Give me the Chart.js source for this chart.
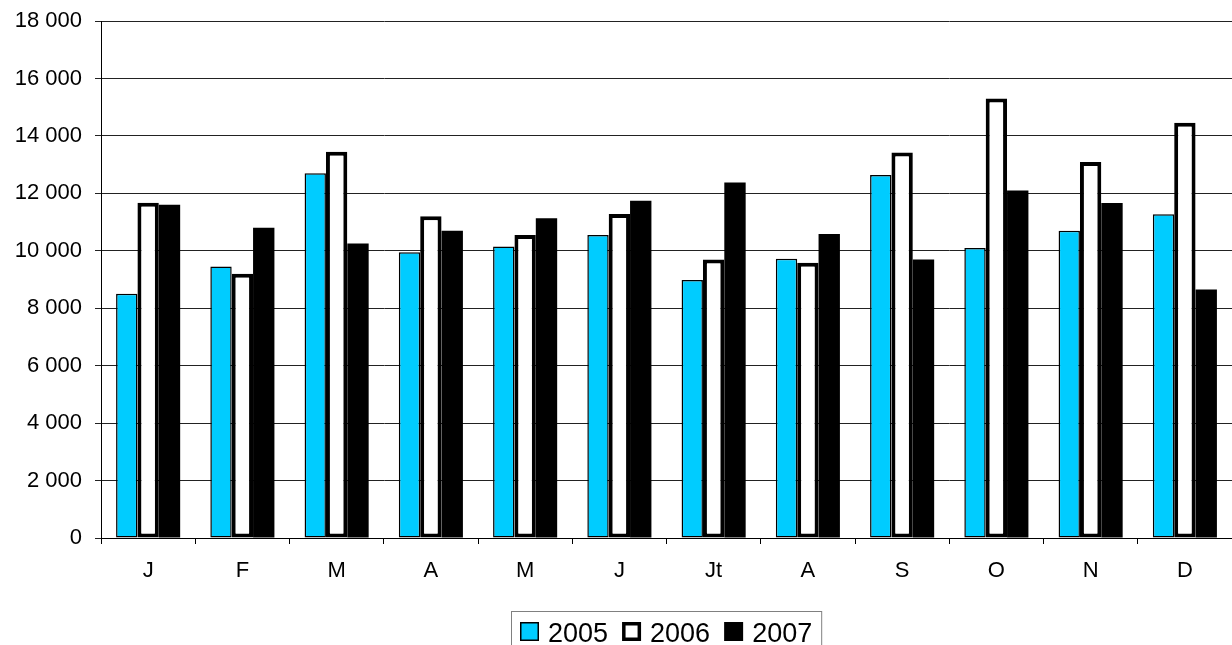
<!DOCTYPE html>
<html>
<head>
<meta charset="utf-8">
<script src="https://cdn.jsdelivr.net/npm/chart.js@4/dist/chart.umd.min.js"></script>
<style>
  html, body { margin: 0; padding: 0; background: #fff; }
  #wrap { width: 1232px; height: 645px; position: relative; }
</style>
</head>
<body>
<div id="wrap"><canvas id="c" width="1232" height="645"></canvas></div>
<script>
const categories = ['J', 'F', 'M', 'A', 'M', 'J', 'Jt', 'A', 'S', 'O', 'N', 'D'];
const seriesNames = ['2005', '2006', '2007'];
const values2005 = [8500, 9450, 12700, 9950, 10150, 10550, 8980, 9720, 12640, 10100, 10700, 11270];
const values2006 = [11670, 9200, 13450, 11200, 10550, 11280, 9700, 9580, 13420, 15300, 13090, 14460];
const values2007 = [11600, 10800, 10250, 10700, 11130, 11740, 12380, 10580, 9700, 12100, 11660, 8650];
const yTickValues = [0, 2000, 4000, 6000, 8000, 10000, 12000, 14000, 16000, 18000];

const FONT = "Arial, 'Liberation Sans', sans-serif";

function fmt(v) {
  return String(v).replace(/\B(?=(\d{3})+(?!\d))/g, ' ');
}

const boxedLegend = {
  id: 'boxedLegend',
  afterDraw(chart) {
    const ctx = chart.ctx;
    const ds = chart.data.datasets;
    ctx.save();
    ctx.font = '27px ' + FONT;
    const box = 19, gapText = 9, gapItem = 14;
    let total = 0;
    const widths = ds.map(d => ctx.measureText(d.label).width);
    widths.forEach((w, i) => { total += box + gapText + w + (i < ds.length - 1 ? gapItem : 0); });
    const padX = 9;
    const left = 511;
    const top = 611;
    ctx.strokeStyle = '#808080';
    ctx.lineWidth = 1;
    ctx.strokeRect(left + 0.5, top + 0.5, total + padX * 2, 60);
    let x = left + padX;
    const by = 622;
    ds.forEach((d, i) => {
      ctx.fillStyle = d.backgroundColor;
      ctx.fillRect(x, by, box, box);
      const bw = d.legendBorder;
      if (bw > 0) {
        ctx.strokeStyle = '#000';
        ctx.lineWidth = bw;
        ctx.strokeRect(x + bw / 2, by + bw / 2, box - bw, box - bw);
      }
      ctx.fillStyle = '#000';
      ctx.textBaseline = 'alphabetic';
      ctx.textAlign = 'left';
      ctx.fillText(d.label, x + box + gapText, by + box + 0.5);
      x += box + gapText + widths[i] + gapItem;
    });
    ctx.restore();
  }
};

new Chart(document.getElementById('c'), {
  type: 'bar',
  data: {
    labels: categories,
    datasets: [
      { label: seriesNames[0], data: values2005, backgroundColor: '#00CCFF', borderColor: '#000', borderWidth: 1.5, borderSkipped: false, legendBorder: 1.5 },
      { label: seriesNames[1], data: values2006, backgroundColor: '#FFFFFF', borderColor: '#000', borderWidth: 4, borderSkipped: false, legendBorder: 3.5 },
      { label: seriesNames[2], data: values2007, backgroundColor: '#000000', borderColor: '#000', borderWidth: 0, legendBorder: 0 }
    ]
  },
  options: {
    responsive: false,
    animation: false,
    devicePixelRatio: 1,
    layout: { padding: { top: 21, right: 0, bottom: 0, left: 0 } },
    datasets: { bar: { categoryPercentage: 0.68, barPercentage: 1.0 } },
    plugins: { legend: { display: false }, tooltip: { enabled: false } },
    scales: {
      x: {
        grid: { display: true, drawOnChartArea: false, drawTicks: true, tickLength: 6, color: '#000', offset: true },
        border: { display: true, color: '#000', width: 1 },
        ticks: { color: '#000', font: { family: FONT, size: 22 }, padding: 14, maxRotation: 0, autoSkip: false },
        afterFit(scale) { scale.height = 107; }
      },
      y: {
        min: 0,
        max: 18000,
        afterBuildTicks(scale) { scale.ticks = yTickValues.map(v => ({ value: v })); },
        grid: { color: '#222', lineWidth: 1, drawTicks: true, tickLength: 6 },
        border: { display: true, color: '#000', width: 1 },
        ticks: { color: '#000', font: { family: FONT, size: 22 }, padding: 13, callback: v => fmt(v) },
        afterFit(scale) { scale.width = 101; scale.paddingTop = 0; scale.paddingBottom = 0; }
      }
    }
  },
  plugins: [boxedLegend]
});
</script>
</body>
</html>
